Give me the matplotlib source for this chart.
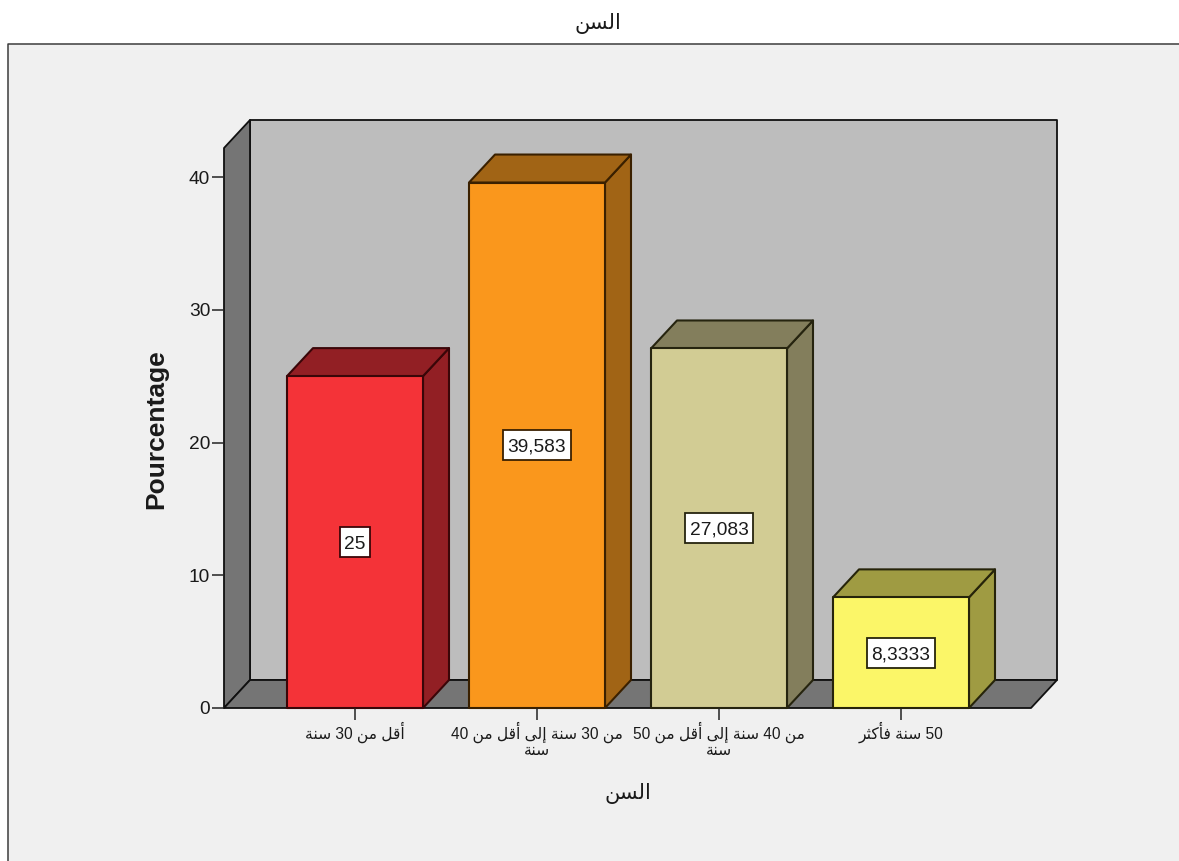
import matplotlib
matplotlib.use("Agg")
import matplotlib.pyplot as plt
from matplotlib.patches import Polygon, Rectangle

categories = ["أقل من 30 سنة", "من 30 سنة إلى أقل من 40 سنة",
              "من 40 سنة إلى أقل من 50 سنة", "50 سنة فأكثر"]
percentages = [25, 39.583, 27.083, 8.3333]
value_labels = ["25", "39,583", "27,083", "8,3333"]
y_ticks = [0, 10, 20, 30, 40]
title_text = "السن"
x_label = "السن"
y_label = "Pourcentage"

front_colors = ["#F43338", "#FA971C", "#D2CC94", "#FBF668"]
side_colors = ["#921F24", "#A16415", "#837E5C", "#9F9B42"]
edge_colors = ["#3A0608", "#3A2000", "#26240F", "#26240A"]
WALL = "#BDBDBD"
FLOOR = "#757575"
PANEL = "#F0F0F0"

# Presentation forms: isolated, final, initial, medial
FORMS = {
    "ا": "\uFE8D\uFE8E", "أ": "\uFE83\uFE84", "إ": "\uFE87\uFE88",
    "ر": "\uFEAD\uFEAE", "ة": "\uFE93\uFE94", "ى": "\uFEEF\uFEF0",
    "س": "\uFEB1\uFEB2\uFEB3\uFEB4", "ن": "\uFEE5\uFEE6\uFEE7\uFEE8",
    "ق": "\uFED5\uFED6\uFED7\uFED8", "م": "\uFEE1\uFEE2\uFEE3\uFEE4",
    "ل": "\uFEDD\uFEDE\uFEDF\uFEE0", "ف": "\uFED1\uFED2\uFED3\uFED4",
    "ك": "\uFED9\uFEDA\uFEDB\uFEDC", "ث": "\uFE99\uFE9A\uFE9B\uFE9C",
}


def shape_word(word):
    """Join the letters of an Arabic word and lay them out left to right."""
    if word[0] not in FORMS:
        return word
    out = []
    for i, ch in enumerate(word):
        forms = FORMS[ch]
        after_joiner = i > 0 and len(FORMS[word[i - 1]]) == 4
        before_letter = i < len(word) - 1
        joins_next = before_letter and len(forms) == 4
        index = {(False, False): 0, (True, False): 1,
                 (False, True): 2, (True, True): 3}[(after_joiner, joins_next)]
        out.append(forms[index])
    return "".join(reversed(out))


def shape(text):
    return " ".join(shape_word(w) for w in reversed(text.split(" ")))


def wrapped(text, limit=5):
    """Break a long category over two lines, as the axis labels do."""
    words = text.split(" ")
    if len(words) <= limit + 1:
        return shape(text)
    return shape(" ".join(words[:-1])) + "\n" + shape(words[-1])


W, H = 1179, 861
fig = plt.figure(figsize=(W / 100, H / 100), dpi=100, facecolor="white")
fig.add_artist(Rectangle((8 / W, 0), 1 - 8 / W, 1 - 44 / H, transform=fig.transFigure,
                         facecolor=PANEL, edgecolor="none", zorder=-2))
fig.add_artist(plt.Line2D([8 / W, 8 / W, 1], [0, 1 - 44 / H, 1 - 44 / H],
                          transform=fig.transFigure, color="#3C3C3C", lw=1.1, zorder=-1))

# Axes run from the front-left floor corner to the top of the back wall
left, right, top, bottom = 224, 1057, 120, 708
ax = fig.add_axes([left / W, 1 - bottom / H, (right - left) / W, (bottom - top) / H])
ax.patch.set_alpha(0)
px_x, px_y = 182.0, 13.275
ax.set_xlim(-(355 - left) / px_x, (right - 355) / px_x)
ax.set_ylim(0, (bottom - top) / px_y)
x0, x1 = ax.get_xlim()
y1 = ax.get_ylim()[1]
dx, dy = 26 / px_x, 28 / px_y
half = 68 / px_x

line = dict(edgecolor="#101010", linewidth=1.3, joinstyle="round", clip_on=False)
ax.add_patch(Polygon([(x0 + dx, dy), (x1, dy), (x1, y1), (x0 + dx, y1)], facecolor=WALL, **line))
ax.add_patch(Polygon([(x0, 0), (x0 + dx, dy), (x0 + dx, y1), (x0, y1 - dy)], facecolor=FLOOR, **line))
ax.add_patch(Polygon([(x0, 0), (x1 - dx, 0), (x1, dy), (x0 + dx, dy)], facecolor=FLOOR, **line))

renderer = fig.canvas.get_renderer()
for i, value in enumerate(percentages):
    style = dict(edgecolor=edge_colors[i], linewidth=1.5, joinstyle="round", clip_on=False)
    l, r = i - half, i + half
    ax.add_patch(Polygon([(r, 0), (r + dx, dy), (r + dx, value + dy), (r, value)],
                         facecolor=side_colors[i], **style))
    ax.add_patch(Polygon([(l, value), (r, value), (r + dx, value + dy), (l + dx, value + dy)],
                         facecolor=side_colors[i], **style))
    ax.add_patch(Polygon([(l, 0), (r, 0), (r, value), (l, value)],
                         facecolor=front_colors[i], **style))
    # Value tag: a fixed-height white box sized around the measured text
    tag = ax.text(i, value / 2, value_labels[i], ha="center", va="center_baseline", fontsize=13.8,
                  family="Liberation Sans", color="#1A1A1A", zorder=6)
    box_w = (tag.get_window_extent(renderer).width + 9) / px_x
    box_h = 30 / px_y
    ax.add_patch(Rectangle((i - box_w / 2, value / 2 - box_h / 2), box_w, box_h,
                           facecolor="white", edgecolor=edge_colors[i], linewidth=1.3, zorder=5))

for s in ax.spines.values():
    s.set_visible(False)
ax.set_yticks(y_ticks)
ax.set_yticklabels([str(v) for v in y_ticks], fontsize=13.8, family="Liberation Sans", color="#1A1A1A")
ax.tick_params(axis="y", length=9, width=1.1, pad=1, color="#222222")
ax.set_xticks(range(len(categories)))
ax.set_xticklabels([wrapped(c) for c in categories], fontsize=11.2,
                   family=["Liberation Sans", "DejaVu Sans"], color="#1A1A1A", linespacing=1.0)
ax.tick_params(axis="x", length=8.5, width=1.1, pad=1, color="#222222")

fig.text(156 / W, 1 - 429 / H, y_label, rotation=90, ha="center", va="center",
         fontsize=19, fontweight="bold", family="Liberation Sans", color="#1A1A1A")
fig.text(628 / W, 1 - 793 / H, shape(x_label), ha="center", va="center",
         fontsize=15, family="DejaVu Sans", color="#1A1A1A")
fig.text(598 / W, 1 - 23 / H, shape(title_text), ha="center", va="center",
         fontsize=15, family="DejaVu Sans", color="#1A1A1A")

fig.savefig("out.png", dpi=100, facecolor="white")
